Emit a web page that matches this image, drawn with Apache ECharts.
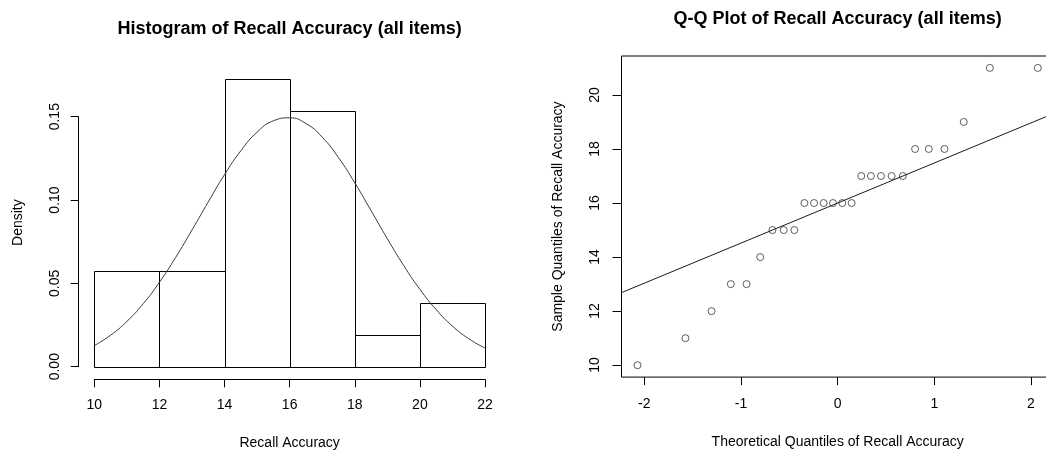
<!DOCTYPE html>
<html>
<head>
<meta charset="utf-8">
<title>Recall Accuracy</title>
<script src="https://cdn.jsdelivr.net/npm/echarts@6/dist/echarts.min.js"></script>
<style>
  html, body { margin: 0; padding: 0; background: #fff; }
  #chart { width: 1046px; height: 452px; }
</style>
</head>
<body>
<div id="chart"></div>
<script>
// Histogram bins (edges) and densities for recall accuracy, n = 26
const binStarts = [10, 12, 14, 16, 18, 20];
const binEnds = [12, 14, 16, 18, 20, 22];
const binDensity = [0.0577, 0.0577, 0.1731, 0.1538, 0.0192, 0.0385];

// Fitted normal density curve, read at half-unit steps
const curveX = [10, 10.5, 11, 11.5, 12, 12.5, 13, 13.5, 14, 14.5, 15, 15.5, 16,
                16.5, 17, 17.5, 18, 18.5, 19, 19.5, 20, 20.5, 21, 21.5, 22];
const curveY = [0.0127, 0.0189, 0.0272, 0.0378, 0.0507, 0.0657, 0.0821, 0.0990, 0.1154,
                0.1297, 0.1409, 0.1477, 0.1495, 0.1461, 0.1379, 0.1256, 0.1105, 0.0938,
                0.0769, 0.0609, 0.0465, 0.0343, 0.0244, 0.0168, 0.0112];

// Q-Q plot: theoretical normal quantiles and sorted sample values
const theoretical = [-2.070, -1.574, -1.304, -1.105, -0.942, -0.801, -0.674, -0.558, -0.448,
                     -0.344, -0.244, -0.145, -0.048, 0.048, 0.145, 0.244, 0.344, 0.448,
                     0.558, 0.674, 0.801, 0.942, 1.105, 1.304, 1.574, 2.070];
const sample = [10, 11, 12, 13, 13, 14, 15, 15, 15, 16, 16, 16, 16, 16, 16,
                17, 17, 17, 17, 17, 18, 18, 18, 19, 21, 21];
// Reference line through the quartiles
const qqIntercept = 16;
const qqSlope = 1.4826;

// Tick labels
const histXTicks = ['10', '12', '14', '16', '18', '20', '22'];
const histYTicks = ['0.00', '0.05', '0.10', '0.15'];
const qqXTicks = ['-2', '-1', '0', '1', '2'];
const qqYTicks = ['10', '12', '14', '16', '18', '20'];

const FONT = '"Liberation Sans", Arial, sans-serif';
const TXT = '#000';

// Plot regions (padded by 4% beyond the data range)
const histXRange = [9.52, 22.48];
const histYRange = [-0.00692, 0.18004];
const qqXRange = [-2.2356, 2.2356];
const qqYRange = [9.56, 21.44];

const chart = echarts.init(document.getElementById('chart'), null, { renderer: 'canvas' });

const hiddenAxis = {
  axisLine: { show: false, onZero: false }, axisTick: { show: false },
  axisLabel: { show: false }, splitLine: { show: false }
};
const nameStyle = { color: TXT, fontFamily: FONT, fontSize: 14 };
const labelStyle = { color: TXT, fontFamily: FONT, fontSize: 14 };
const titleStyle = { fontFamily: FONT, fontSize: 18, fontWeight: 'bold', color: TXT };

const option = {
  backgroundColor: '#fff',
  animation: false,
  title: [
    {
      text: 'Histogram of Recall Accuracy (all items)',
      left: 289.6, top: 20, textAlign: 'center', padding: 0, textStyle: titleStyle
    },
    {
      text: 'Q-Q Plot of Recall Accuracy (all items)',
      left: 837.6, top: 10, textAlign: 'center', padding: 0, textStyle: titleStyle
    }
  ],
  grid: [
    // 0: histogram plot region
    { left: 78.7, top: 67, width: 421.9, height: 311.2, show: false,
      containLabel: false, outerBoundsMode: 'none' },
    // 1: histogram tick span
    { left: 94.3, top: 116.7, width: 390.7, height: 250, show: false,
      containLabel: false, outerBoundsMode: 'none' },
    // 2: Q-Q plot region (boxed; its right edge runs past the canvas)
    { left: 621.5, top: 56, width: 432.3, height: 321.1, show: true,
      borderColor: '#000', borderWidth: 1, backgroundColor: 'transparent',
      containLabel: false, outerBoundsMode: 'none' },
    // 3: Q-Q tick span
    { left: 644.3, top: 95, width: 386.7, height: 270, show: false,
      containLabel: false, outerBoundsMode: 'none' }
  ],
  xAxis: [
    Object.assign({
      gridIndex: 0, type: 'value', min: histXRange[0], max: histXRange[1],
      name: 'Recall Accuracy', nameLocation: 'middle', nameGap: 58, nameTextStyle: nameStyle
    }, hiddenAxis),
    {
      gridIndex: 1, type: 'value', min: 10, max: 22, interval: 2, offset: 12.6,
      axisLine: { show: true, onZero: false, lineStyle: { color: '#000', width: 1 } },
      axisTick: { show: true, length: 8, lineStyle: { color: '#000' } },
      axisLabel: Object.assign({ margin: 19,
        formatter: (v) => histXTicks[Math.round((v - 10) / 2)] }, labelStyle),
      splitLine: { show: false }
    },
    Object.assign({
      gridIndex: 2, type: 'value', min: qqXRange[0], max: qqXRange[1],
      name: 'Theoretical Quantiles of Recall Accuracy', nameLocation: 'middle',
      nameGap: 58, nameTextStyle: nameStyle
    }, hiddenAxis),
    {
      gridIndex: 3, type: 'value', min: -2, max: 2, interval: 1, offset: 12.1,
      axisLine: { show: false, onZero: false },
      axisTick: { show: true, length: 8, lineStyle: { color: '#000' } },
      axisLabel: Object.assign({ margin: 20,
        formatter: (v) => qqXTicks[Math.round(v + 2)] }, labelStyle),
      splitLine: { show: false }
    }
  ],
  yAxis: [
    Object.assign({
      gridIndex: 0, type: 'value', min: histYRange[0], max: histYRange[1],
      name: 'Density', nameLocation: 'middle', nameGap: 54, nameRotate: 90,
      nameTextStyle: nameStyle
    }, hiddenAxis),
    {
      gridIndex: 1, type: 'value', min: 0, max: 0.15, interval: 0.05, offset: 15.6,
      axisLine: { show: true, onZero: false, lineStyle: { color: '#000', width: 1 } },
      axisTick: { show: true, length: 8, lineStyle: { color: '#000' } },
      axisLabel: Object.assign({ margin: 17, rotate: 90,
        formatter: (v) => histYTicks[Math.round(v / 0.05)] }, labelStyle),
      splitLine: { show: false }
    },
    Object.assign({
      gridIndex: 2, type: 'value', min: qqYRange[0], max: qqYRange[1],
      name: 'Sample Quantiles of Recall Accuracy', nameLocation: 'middle',
      nameGap: 56, nameRotate: 90, nameTextStyle: nameStyle
    }, hiddenAxis),
    {
      gridIndex: 3, type: 'value', min: 10, max: 20, interval: 2, offset: 22.8,
      axisLine: { show: false, onZero: false },
      axisTick: { show: true, length: 9, lineStyle: { color: '#000' } },
      axisLabel: Object.assign({ margin: 19, rotate: 90,
        formatter: (v) => qqYTicks[Math.round((v - 10) / 2)] }, labelStyle),
      splitLine: { show: false }
    }
  ],
  series: [
    {
      // histogram bars
      type: 'custom',
      xAxisIndex: 0, yAxisIndex: 0,
      clip: false,
      data: binStarts.map((s, i) => [s, binEnds[i], binDensity[i]]),
      renderItem: function (params, api) {
        const p0 = api.coord([api.value(0), 0]);
        const p1 = api.coord([api.value(1), api.value(2)]);
        const x = Math.round(p0[0]) + 0.5;
        const x2 = Math.round(p1[0]) + 0.5;
        const yb = Math.round(p0[1]) + 0.5;
        const yt = Math.round(p1[1]) + 0.5;
        return {
          type: 'rect',
          shape: { x: x, y: yt, width: x2 - x, height: yb - yt },
          style: { fill: 'none', stroke: '#000', lineWidth: 1 }
        };
      }
    },
    {
      // normal density curve
      type: 'line',
      xAxisIndex: 0, yAxisIndex: 0,
      data: curveX.map((x, i) => [x, curveY[i]]),
      smooth: true,
      showSymbol: false,
      clip: false,
      lineStyle: { color: '#3a3a3a', width: 1 }
    },
    {
      // Q-Q points
      type: 'scatter',
      xAxisIndex: 2, yAxisIndex: 2,
      data: theoretical.map((t, i) => [t, sample[i]]),
      symbol: 'circle',
      symbolSize: 7,
      itemStyle: { color: '#fff', borderColor: '#222', borderWidth: 0.9 }
    },
    {
      // Q-Q reference line across the plot region
      type: 'line',
      xAxisIndex: 2, yAxisIndex: 2,
      data: qqXRange.map((x) => [x, qqIntercept + qqSlope * x]),
      showSymbol: false,
      lineStyle: { color: '#1a1a1a', width: 1 }
    }
  ]
};

chart.setOption(option);
</script>
</body>
</html>
